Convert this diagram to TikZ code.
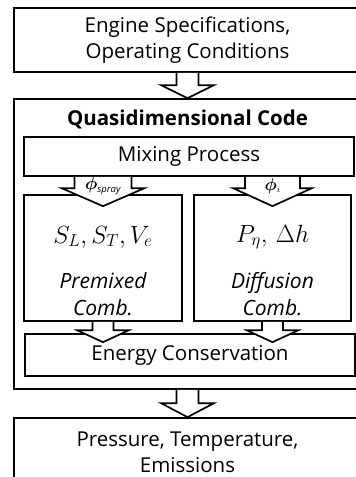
\documentclass[tikz,border=0pt]{standalone}
\usepackage{fontspec}
\setmainfont{Open Sans}
\usepackage{amsmath,bm}
\usetikzlibrary{calc}
\newcommand\blockarrow[5]{\draw[barrow] let \p1=#1, \p2=#2 in
  (\x1-#3pt,\y1) -- (\x1-#3pt,\y2+#5pt) -- (\x1-#4pt,\y2+#5pt) -- (\x1,\y2)
  -- (\x1+#4pt,\y2+#5pt) -- (\x1+#3pt,\y2+#5pt) -- (\x1+#3pt,\y1);}
\begin{document}
\begin{tikzpicture}[x=1pt,y=-1pt,
  box/.style={draw, line width=1.7pt, inner sep=0pt, align=center, font=\fontsize{20.5}{26}\selectfont},
  barrow/.style={draw, fill=white, line width=1.7pt, line join=miter},
  lbl/.style={inner sep=0pt, align=center, font=\fontsize{21}{27}\selectfont\itshape},
  mathlbl/.style={inner sep=0pt, font=\fontsize{23}{26}\selectfont},
  philbl/.style={inner sep=0pt, font=\fontsize{19}{20}\selectfont}]
\useasboundingbox (0,0) rectangle (356,477);
\clip (0,0) rectangle (356,477);
% boxes
\node[box, minimum width=347pt, minimum height=64pt] (top) at (187.5,40)
  {Engine Specifications,\\Operating Conditions};
\node[box, minimum width=347pt, minimum height=290pt] (outer) at (187.5,244) {};
\node[inner sep=0pt, font=\fontsize{20.5}{24}\selectfont\bfseries] (title) at (187.5,119) {Quasidimensional Code};
\node[box, minimum width=330pt, minimum height=39pt] (mix) at (189,156.5) {Mixing Process};
\node[box, minimum width=158pt, minimum height=126pt] (prem) at (103,258) {};
\node[box, minimum width=157pt, minimum height=126pt] (diff) at (272.5,258) {};
\node[box, minimum width=330pt, minimum height=42pt] (energy) at (190,355) {Energy Conservation};
\node[box, minimum width=347pt, minimum height=69pt] (out) at (187.5,452.5)
  {Pressure, Temperature,\\Emissions};
% arrows
\blockarrow{(top.south)}{(outer.north)}{11}{26.5}{13}
\blockarrow{(mix.south -| prem.north)}{($(prem.north)+(0,12)$)}{28.5}{41.5}{18}
\blockarrow{(mix.south -| diff.north)}{($(diff.north)+(0,12)$)}{27.5}{39.5}{18}
\blockarrow{(prem.south)}{($(energy.north -| prem.south)+(0,9)$)}{10.5}{26}{12}
\blockarrow{(diff.south)}{($(energy.north -| diff.south)+(0,9)$)}{10.5}{26}{12}
\blockarrow{(outer.south)}{(out.north)}{11}{26.5}{14}
% labels
\node[philbl] (phis) at ($(mix.south -| prem.north)+(0,9)$) {$\bm{\phi}_{\scriptscriptstyle\mathit{spray}}$};
\node[philbl] (phii) at ($(mix.south -| diff.north)+(0,9)$) {$\bm{\phi}_{\scriptscriptstyle i}$};
\node[mathlbl] (sl) at ($(prem.north)+(0,43)$) {$S_L, S_T, V_e$};
\node[mathlbl] (pe) at ($(diff.north)+(0,43)$) {$P_\eta,\, \Delta h$};
\node[lbl] (pc) at ($(prem.north)+(0,100)$) {Premixed\\Comb.};
\node[lbl] (dc) at ($(diff.north)+(0,100)$) {Diffusion\\Comb.};
\end{tikzpicture}
\end{document}
